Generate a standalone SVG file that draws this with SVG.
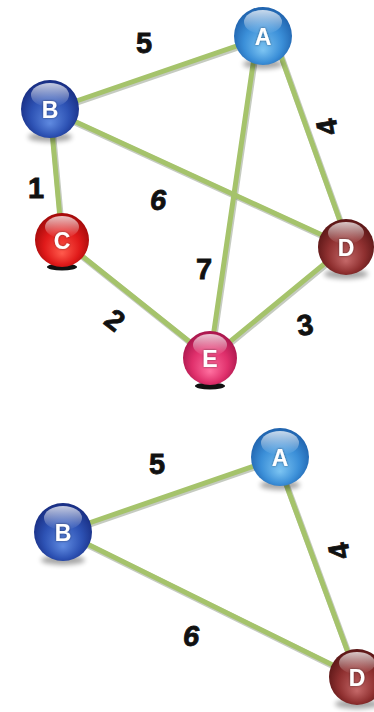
<svg xmlns="http://www.w3.org/2000/svg" width="374" height="712" viewBox="0 0 374 712">
  <style>
    .edge { stroke: #a5c36b; stroke-width: 5; stroke-linecap: round; fill: none; }
    .edge-shade { stroke: #7f8c74; stroke-width: 6; stroke-linecap: round; fill: none; opacity: 0.45; }
    .w { font-family: "Liberation Sans", Arial, sans-serif; font-weight: bold; font-size: 29px; fill: #111; text-anchor: middle; stroke: #111; stroke-width: 0.8; }
    .wi { font-style: italic; }
    .nl { font-family: "Liberation Sans", Arial, sans-serif; font-weight: bold; font-size: 23px; fill: #fff; text-anchor: middle; }
    .gloss { fill: url(#gloss); }
    .soft { fill: #000; opacity: 0.35; filter: url(#blur); }
    .hard { fill: #111; }
  </style>
  <defs>
    <filter id="blur" x="-50%" y="-50%" width="200%" height="200%">
      <feGaussianBlur stdDeviation="2.5"/>
    </filter>
    <filter id="txtshade" x="-30%" y="-30%" width="160%" height="160%">
      <feDropShadow dx="0" dy="0" stdDeviation="1" flood-color="#000" flood-opacity="0.5"/>
    </filter>
    <linearGradient id="gloss" x1="0" y1="0" x2="0" y2="1">
      <stop offset="0" stop-color="#fff" stop-opacity="0.75"/>
      <stop offset="1" stop-color="#fff" stop-opacity="0"/>
    </linearGradient>
    <radialGradient id="gA" cx="50%" cy="55%" r="55%" fx="50%" fy="75%">
      <stop offset="0" stop-color="#7cc4f2"/>
      <stop offset="0.6" stop-color="#3b8fd8"/>
      <stop offset="1" stop-color="#1f62ad"/>
    </radialGradient>
    <radialGradient id="gB" cx="50%" cy="55%" r="55%" fx="50%" fy="75%">
      <stop offset="0" stop-color="#5f8ae0"/>
      <stop offset="0.6" stop-color="#2d52b4"/>
      <stop offset="1" stop-color="#182d82"/>
    </radialGradient>
    <radialGradient id="gC" cx="50%" cy="55%" r="55%" fx="50%" fy="75%">
      <stop offset="0" stop-color="#ff5a4c"/>
      <stop offset="0.6" stop-color="#e01a1a"/>
      <stop offset="1" stop-color="#a20a0a"/>
    </radialGradient>
    <radialGradient id="gD" cx="50%" cy="55%" r="55%" fx="50%" fy="75%">
      <stop offset="0" stop-color="#c46868"/>
      <stop offset="0.6" stop-color="#8f3030"/>
      <stop offset="1" stop-color="#5a1616"/>
    </radialGradient>
    <radialGradient id="gE" cx="50%" cy="55%" r="55%" fx="50%" fy="75%">
      <stop offset="0" stop-color="#ff70a0"/>
      <stop offset="0.6" stop-color="#e0306c"/>
      <stop offset="1" stop-color="#a8164c"/>
    </radialGradient>
  </defs>

  <rect width="374" height="712" fill="#fff"/>

  <!-- upper graph: connectors -->
  <g id="edges-top">
    <g transform="translate(1,1.5)">
      <line class="edge-shade" x1="50" y1="110" x2="263" y2="37"/>
      <line class="edge-shade" x1="50" y1="110" x2="346" y2="246"/>
      <line class="edge-shade" x1="50" y1="110" x2="62" y2="240"/>
      <line class="edge-shade" x1="257" y1="37" x2="210" y2="358"/>
      <line class="edge-shade" x1="274" y1="37" x2="349" y2="246"/>
      <line class="edge-shade" x1="62" y1="240" x2="210" y2="358"/>
      <line class="edge-shade" x1="210" y1="358" x2="346" y2="246"/>
    </g>
    <line class="edge" x1="50" y1="110" x2="263" y2="37"/>
    <line class="edge" x1="50" y1="110" x2="346" y2="246"/>
    <line class="edge" x1="50" y1="110" x2="62" y2="240"/>
    <line class="edge" x1="257" y1="37" x2="210" y2="358"/>
    <line class="edge" x1="274" y1="37" x2="349" y2="246"/>
    <line class="edge" x1="62" y1="240" x2="210" y2="358"/>
    <line class="edge" x1="210" y1="358" x2="346" y2="246"/>
  </g>

  <!-- upper graph: weights -->
  <g id="weights-top">
    <text class="w" x="144" y="53">5</text>
    <text class="w" transform="translate(327,127) rotate(-100)" y="10">4</text>
    <text class="w" x="36" y="198">1</text>
    <text class="w wi" x="158" y="210">6</text>
    <text class="w" x="204" y="279">7</text>
    <text class="w" transform="translate(115,320) rotate(38)" y="10">2</text>
    <text class="w" transform="translate(305,325) rotate(-8)" y="10">3</text>
  </g>

  <!-- upper graph: nodes -->
  <g id="top-A" transform="translate(263,36)">
    <ellipse class="soft" cx="0" cy="28" rx="20" ry="5"/>
    <circle r="29" fill="url(#gA)"/>
    <ellipse class="gloss" cx="0" cy="-14" rx="19" ry="12"/>
    <text class="nl" y="9" filter="url(#txtshade)">A</text>
  </g>
  <g id="top-B" transform="translate(50,109)">
    <ellipse class="soft" cx="0" cy="28" rx="22" ry="5"/>
    <circle r="29" fill="url(#gB)"/>
    <ellipse class="gloss" cx="0" cy="-14" rx="19" ry="12"/>
    <text class="nl" y="9" filter="url(#txtshade)">B</text>
  </g>
  <g id="top-C" transform="translate(62,240)">
    <ellipse class="hard" cx="0" cy="27" rx="15" ry="3.5"/>
    <circle r="27" fill="url(#gC)"/>
    <ellipse class="gloss" cx="0" cy="-13" rx="17" ry="11"/>
    <text class="nl" y="9" filter="url(#txtshade)">C</text>
  </g>
  <g id="top-D" transform="translate(346,247)">
    <ellipse class="soft" cx="0" cy="27" rx="22" ry="5"/>
    <circle r="28" fill="url(#gD)"/>
    <ellipse class="gloss" cx="0" cy="-14" rx="18" ry="11"/>
    <text class="nl" y="9" filter="url(#txtshade)">D</text>
  </g>
  <g id="top-E" transform="translate(210,358)">
    <ellipse class="hard" cx="0" cy="28" rx="15" ry="3.5"/>
    <circle r="27" fill="url(#gE)"/>
    <ellipse class="gloss" cx="0" cy="-13" rx="17" ry="11"/>
    <text class="nl" y="9" filter="url(#txtshade)">E</text>
  </g>

  <!-- lower graph: connectors -->
  <g id="edges-bottom">
    <g transform="translate(1,1.5)">
      <line class="edge-shade" x1="63" y1="532" x2="280" y2="457"/>
      <line class="edge-shade" x1="63" y1="532" x2="357" y2="677"/>
      <line class="edge-shade" x1="276" y1="457" x2="357" y2="677"/>
    </g>
    <line class="edge" x1="63" y1="532" x2="280" y2="457"/>
    <line class="edge" x1="63" y1="532" x2="357" y2="677"/>
    <line class="edge" x1="276" y1="457" x2="357" y2="677"/>
  </g>

  <!-- lower graph: weights -->
  <g id="weights-bottom">
    <text class="w" x="157" y="474">5</text>
    <text class="w" transform="translate(339,551) rotate(-100)" y="10">4</text>
    <text class="w wi" x="191" y="646">6</text>
  </g>

  <!-- lower graph: nodes -->
  <g id="bottom-A" transform="translate(280,457)">
    <ellipse class="soft" cx="0" cy="28" rx="20" ry="5"/>
    <circle r="29" fill="url(#gA)"/>
    <ellipse class="gloss" cx="0" cy="-14" rx="19" ry="12"/>
    <text class="nl" y="9" filter="url(#txtshade)">A</text>
  </g>
  <g id="bottom-B" transform="translate(63,532)">
    <ellipse class="soft" cx="0" cy="28" rx="22" ry="5"/>
    <circle r="29" fill="url(#gB)"/>
    <ellipse class="gloss" cx="0" cy="-14" rx="19" ry="12"/>
    <text class="nl" y="9" filter="url(#txtshade)">B</text>
  </g>
  <g id="bottom-D" transform="translate(357,677)">
    <ellipse class="soft" cx="0" cy="27" rx="22" ry="5"/>
    <circle r="28" fill="url(#gD)"/>
    <ellipse class="gloss" cx="0" cy="-14" rx="18" ry="11"/>
    <text class="nl" y="9" filter="url(#txtshade)">D</text>
  </g>
</svg>
